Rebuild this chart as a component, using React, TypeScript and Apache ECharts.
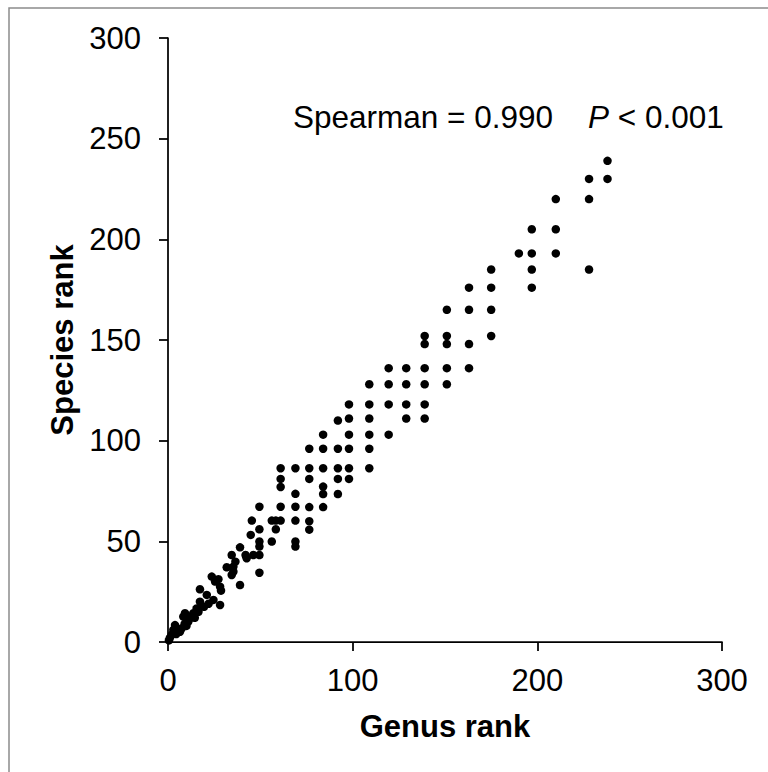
import React, { useEffect, useRef } from "react";
import * as echarts from "echarts";

const xTickValues = [0, 100, 200, 300];
const yTickValues = [0, 50, 100, 150, 200, 250, 300];

const genusRank = [
  0.5, 1, 2, 2.9, 3.8, 4.5, 5.5, 6.5, 7.4, 8.3,
  9.2, 9, 10, 11, 11.9, 13, 13.7, 14.5, 15.5, 16.5,
  17.3, 17.3, 19.5, 21, 22, 24.6, 23.7, 25.5, 27.3, 28.2,
  28.7, 28.2, 31.8, 34.5, 34.5, 35.4, 35.4, 36.5, 39, 39,
  42, 42.6, 44.8, 45.4, 46.2, 49.5, 49.5, 49.5, 49.5, 49.5,
  49.5, 56.2, 56.2, 58.4, 58.4, 61, 61, 61, 61, 61,
  69, 69, 69, 69, 69, 69,
  76.5, 76.5, 76.5, 76.5, 76.5, 76.5,
  84, 84, 84, 84, 84, 84,
  92, 92, 92, 92, 92,
  98, 98, 98, 98, 98, 98,
  109, 109, 109, 109, 109, 109,
  119.5, 119.5, 119.5, 119.5,
  129, 129, 129, 129,
  139, 139, 139, 139, 139, 139,
  151, 151, 151, 151, 151,
  163, 163, 163, 163,
  175, 175, 175, 175,
  190,
  197, 197, 197, 197,
  210, 210, 210,
  228, 228, 228,
  238, 238,
];

const speciesRank = [
  0.8, 2, 3.6, 6, 8.4, 4, 6, 5.1, 6.8, 12.6,
  14.3, 9, 8, 10.1, 11.8, 13, 14.3, 12, 16.7, 15,
  20, 26.2, 17.5, 23.4, 19, 20.9, 32.5, 30, 31.2, 27.5,
  25.5, 18.4, 37.1, 33.3, 43.2, 34.9, 37.4, 39.9, 28.3, 47,
  43.2, 41.6, 53.2, 60.3, 43.2, 67.2, 56, 49.9, 47.4, 43.2,
  34.4, 60.3, 49.9, 56, 60.3, 60.3, 67.2, 77, 81, 86.3,
  86.3, 73.6, 67.2, 60.3, 49.9, 47.4,
  96, 86.3, 81, 67, 60, 55.8,
  103, 96, 86.3, 77.2, 73.5, 67,
  110, 96, 86.3, 81, 73.5,
  118, 111, 103, 96, 86.3, 81,
  128, 118, 111, 103, 96, 86.3,
  136, 128, 118, 103,
  136, 128, 118, 111,
  152, 148, 136, 128, 118, 111,
  165, 152, 148, 136, 128,
  176, 165, 148, 136,
  185, 176, 165, 152,
  193,
  205, 193, 185, 176,
  220, 205, 193,
  230, 220, 185,
  239, 230,
];

const annotationStat = "Spearman = 0.990";
const annotationP = "P";
const annotationPValue = " < 0.001";

const FONT = "'Liberation Sans', Arial, Helvetica, sans-serif";

export default function App() {
  const ref = useRef<HTMLDivElement>(null);

  useEffect(() => {
    if (!ref.current) return;
    const chart = echarts.init(ref.current, null, { renderer: "svg" });
    const points = genusRank.map((g, i) => [g, speciesRank[i]]);
    chart.setOption({
      animation: false,
      backgroundColor: "#ffffff",
      textStyle: { fontFamily: FONT },
      grid: { left: 168, right: 46, top: 38, bottom: 130, containLabel: false },
      xAxis: {
        type: "value",
        min: xTickValues[0],
        max: xTickValues[xTickValues.length - 1],
        interval: 100,
        axisLine: { show: true, lineStyle: { color: "#000", width: 1.75 } },
        axisTick: { show: true, length: 9, lineStyle: { color: "#000", width: 1.75 } },
        splitLine: { show: false },
        axisLabel: { color: "#000", fontSize: 31, fontFamily: FONT, margin: 23 },
        name: "Genus rank",
        nameLocation: "middle",
        nameGap: 69,
        nameTextStyle: { color: "#000", fontSize: 31, fontWeight: "bold", fontFamily: FONT },
      },
      yAxis: {
        type: "value",
        min: yTickValues[0],
        max: yTickValues[yTickValues.length - 1],
        interval: 50,
        axisLine: { show: true, lineStyle: { color: "#000", width: 1.75 } },
        axisTick: { show: true, length: 9, lineStyle: { color: "#000", width: 1.75 } },
        splitLine: { show: false },
        axisLabel: { color: "#000", fontSize: 31, fontFamily: FONT, margin: 27 },
        name: "Species rank",
        nameLocation: "middle",
        nameGap: 90,
        nameRotate: 90,
        nameTextStyle: { color: "#000", fontSize: 31, fontWeight: "bold", fontFamily: FONT },
      },
      graphic: [
        {
          type: "rect",
          silent: true,
          shape: { x: 9, y: 8, width: 800, height: 800 },
          style: { fill: "none", stroke: "#8c8c8c", lineWidth: 1.5 },
        },
        {
          type: "text",
          silent: true,
          x: 293,
          y: 117,
          style: {
            text: `{n|${annotationStat}}{n|    }{i|${annotationP}}{n|${annotationPValue}}`,
            verticalAlign: "middle",
            align: "left",
            rich: {
              n: { fontSize: 31.5, fontFamily: FONT, fill: "#000", fontStyle: "normal" },
              i: { fontSize: 31.5, fontFamily: FONT, fill: "#000", fontStyle: "italic" },
            },
          },
        },
      ],
      series: [
        {
          type: "scatter",
          data: points,
          symbol: "circle",
          symbolSize: 8.5,
          itemStyle: { color: "#000", opacity: 1 },
          emphasis: { disabled: true },
        },
      ],
    });
    return () => chart.dispose();
  }, []);

  return (
    <div
      ref={ref}
      style={{ position: "absolute", left: 0, top: 0, width: 768, height: 772 }}
    />
  );
}
